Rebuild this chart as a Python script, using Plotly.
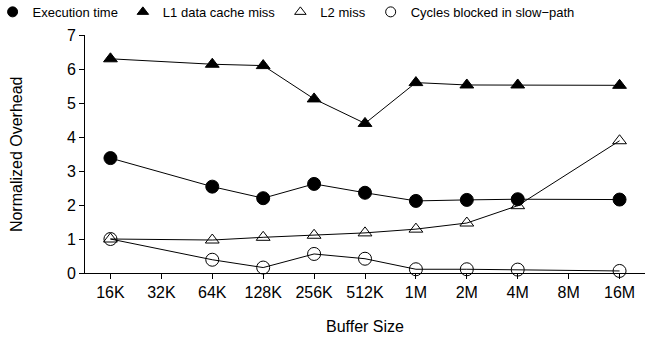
import plotly.graph_objects as go

categories = ["16K", "32K", "64K", "128K", "256K", "512K", "1M", "2M", "4M", "8M", "16M"]
present = ["16K", "64K", "128K", "256K", "512K", "1M", "2M", "4M", "16M"]
exec_time = [3.38, 2.54, 2.2, 2.62, 2.36, 2.12, 2.15, 2.17, 2.16]
l1_miss = [6.3, 6.14, 6.1, 5.12, 4.4, 5.6, 5.53, 5.53, 5.52]
l2_miss = [1.0, 0.97, 1.05, 1.11, 1.18, 1.29, 1.47, 1.98, 3.89]
cycles_blocked = [1.0, 0.39, 0.16, 0.56, 0.42, 0.11, 0.11, 0.1, 0.06]

xpos = [categories.index(c) for c in present]

fig = go.Figure()
series = [
    ("Execution time", exec_time, "circle", 13),
    ("L1 data cache miss", l1_miss, "triangle-up", 12),
    ("L2 miss", l2_miss, "triangle-up-open", 12),
    ("Cycles blocked in slow\u2212path", cycles_blocked, "circle-open", 13),
]
for name, vals, sym, sz in series:
    fig.add_trace(go.Scatter(
        x=xpos, y=vals, name=name, mode="lines+markers", showlegend=False,
        line=dict(color="black", width=1),
        marker=dict(symbol=sym, size=sz, color="black",
                    line=dict(color="black", width=1)),
        cliponaxis=False,
    ))
# legend entries (markers only)
for name, vals, sym, sz in series:
    fig.add_trace(go.Scatter(
        x=[None], y=[None], name=name, mode="markers", showlegend=True,
        marker=dict(symbol=sym, size=10, color="black",
                    line=dict(color="black", width=1)),
    ))

fig.update_layout(
    width=647, height=344,
    margin=dict(l=85, r=2, t=35, b=71, autoexpand=False),
    plot_bgcolor="white", paper_bgcolor="white",
    font=dict(family="Liberation Sans, Arial, sans-serif", size=16, color="black"),
    showlegend=True,
    legend=dict(orientation="h", x=-0.165, y=1.097, xanchor="left", yanchor="middle",
                font=dict(size=13), itemwidth=30, tracegroupgap=0,
                bgcolor="rgba(0,0,0,0)"),
    xaxis=dict(
        range=[-0.5, 10.5], tickmode="array",
        tickvals=list(range(len(categories))), ticktext=categories,
        showgrid=False, zeroline=False, showline=True, linecolor="black", linewidth=1,
        ticks="outside", ticklen=5, tickcolor="black", automargin=False,
        tickfont=dict(size=16),
    ),
    yaxis=dict(
        range=[0, 7], tickmode="array", tickvals=list(range(8)),
        showgrid=False, zeroline=False, showline=True, linecolor="black", linewidth=1,
        ticks="outside", ticklen=5, tickcolor="black", tickfont=dict(size=16),
        automargin=False,
    ),
    annotations=[
        dict(text="Buffer Size", xref="paper", yref="paper", x=0.5, y=-0.223,
             xanchor="center", yanchor="middle", showarrow=False, font=dict(size=16)),
        dict(text="Normalized Overhead", xref="paper", yref="paper", x=-0.123, y=0.5,
             xanchor="center", yanchor="middle", textangle=-90, showarrow=False,
             font=dict(size=16)),
    ],
)

fig.write_html("out.html")
